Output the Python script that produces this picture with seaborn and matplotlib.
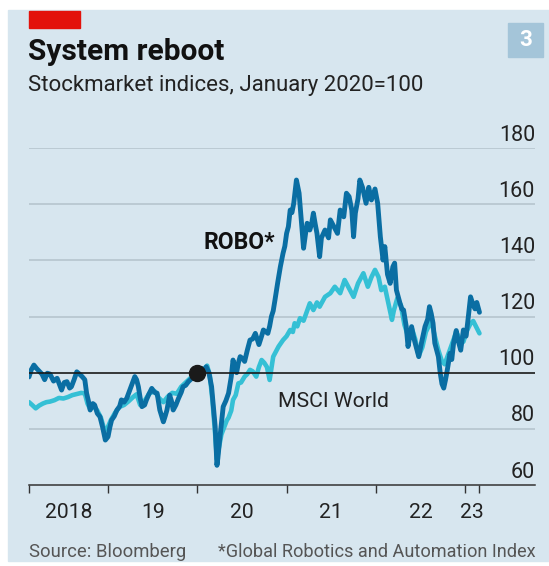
import numpy as np
import pandas as pd
import matplotlib
matplotlib.use("Agg")
import matplotlib.pyplot as plt
import matplotlib.transforms as mtransforms
from matplotlib.patches import Rectangle
import seaborn as sns

# decimal years and index values (January 2020 = 100)
robo_t = [2018.115, 2018.14, 2018.17, 2018.20, 2018.23, 2018.26, 2018.29, 2018.32, 2018.35, 2018.39,
          2018.43, 2018.46, 2018.48, 2018.51, 2018.54, 2018.57, 2018.59, 2018.62, 2018.65, 2018.68,
          2018.71, 2018.74, 2018.76, 2018.78, 2018.80, 2018.83, 2018.85, 2018.88, 2018.91, 2018.94,
          2018.97, 2019.00, 2019.02, 2019.04, 2019.07, 2019.10, 2019.13, 2019.15, 2019.18, 2019.21,
          2019.24, 2019.27, 2019.30, 2019.32, 2019.34, 2019.36, 2019.38, 2019.41, 2019.43, 2019.46,
          2019.49, 2019.52, 2019.55, 2019.58, 2019.62, 2019.64, 2019.66, 2019.69, 2019.71, 2019.73,
          2019.76, 2019.79, 2019.82, 2019.84, 2019.87, 2019.90, 2019.94, 2019.97, 2020.00, 2020.04,
          2020.08, 2020.10, 2020.13, 2020.16, 2020.18, 2020.20, 2020.22, 2020.23, 2020.25, 2020.27,
          2020.29, 2020.32, 2020.35, 2020.38, 2020.40, 2020.42, 2020.44, 2020.46, 2020.48, 2020.51,
          2020.53, 2020.56, 2020.59, 2020.62, 2020.65, 2020.67, 2020.69, 2020.72, 2020.74, 2020.77,
          2020.79, 2020.81, 2020.83, 2020.85, 2020.87, 2020.90, 2020.93, 2020.96, 2020.98, 2021.00,
          2021.02, 2021.04, 2021.06, 2021.08, 2021.11, 2021.14, 2021.17, 2021.19, 2021.21, 2021.23,
          2021.26, 2021.28, 2021.30, 2021.32, 2021.34, 2021.37, 2021.39, 2021.43, 2021.47, 2021.49,
          2021.53, 2021.57, 2021.60, 2021.64, 2021.67, 2021.70, 2021.73, 2021.75, 2021.77, 2021.80,
          2021.82, 2021.85, 2021.89, 2021.92, 2021.95, 2021.99, 2022.02, 2022.05, 2022.08, 2022.10,
          2022.13, 2022.16, 2022.19, 2022.21, 2022.23, 2022.27, 2022.29, 2022.31, 2022.34, 2022.36,
          2022.38, 2022.40, 2022.42, 2022.44, 2022.48, 2022.51, 2022.55, 2022.58, 2022.60, 2022.62,
          2022.64, 2022.66, 2022.70, 2022.72, 2022.74, 2022.76, 2022.78, 2022.80, 2022.83, 2022.85,
          2022.87, 2022.90, 2022.92, 2022.95, 2022.98, 2023.01, 2023.03, 2023.06, 2023.08, 2023.11,
          2023.13, 2023.16]
robo_v = [98.5, 101, 102.7, 101.5, 100.5, 99.5, 97.5, 99.8, 99.5, 97,
          98, 95.5, 93.8, 96.5, 96.8, 94.5, 95, 97.5, 100.3, 99.5,
          98.6, 97.5, 92.7, 90, 86.7, 89, 88.5, 85.5, 84.3, 80.5,
          76, 77.2, 80.5, 83.1, 84.5, 86.7, 88, 90.3, 89.5, 90.9,
          93.5, 96.2, 98.6, 97.5, 95, 91, 87.9, 88.5, 90.3, 92.5,
          94.4, 93, 92.7, 86.7, 82.5, 84.5, 86.7, 92, 90, 86.7,
          88.5, 90.9, 93, 95, 95.5, 96.8, 98, 99, 100, 101.5,
          101, 102.1, 100, 95, 88, 80.8, 67, 69.5, 76, 82,
          87.9, 90, 92.7, 98.5, 104.5, 102, 100, 103.5, 105.7, 105,
          104, 108, 111.6, 112, 114, 112, 110, 113, 115.2, 114.5,
          114, 116.5, 120, 122, 125.9, 132, 137.7, 142.5, 145, 149.6,
          152, 157.9, 157, 160.3, 168.6, 163.9, 152, 144.3, 149, 153.2,
          150.8, 153, 156.8, 153, 149.6, 141.3, 148, 150.8, 148, 154.4,
          152, 149.6, 157.9, 155.5, 163.9, 162.7, 157.9, 148.4, 156.8, 162,
          168.6, 166, 160.3, 166, 161.5, 165.4, 160.3, 148.4, 140.1, 144.9,
          135, 131.8, 137.7, 139, 129.4, 124.7, 122.7, 122.3, 116.4, 109.3,
          113, 116.4, 113, 110.5, 105.7, 110.5, 116.4, 119, 123.5, 121,
          117.6, 110.5, 105.7, 100, 96, 94.5, 97.5, 101, 106.9, 104.7,
          110.5, 115, 111.6, 108, 115.2, 113, 118.4, 127, 125, 122.7,
          125, 121.5]

msci_t = [2018.115, 2018.15, 2018.19, 2018.23, 2018.27, 2018.31, 2018.35, 2018.40, 2018.45, 2018.50,
          2018.55, 2018.60, 2018.65, 2018.70, 2018.74, 2018.77, 2018.80, 2018.84, 2018.88, 2018.92,
          2018.96, 2018.99, 2019.03, 2019.08, 2019.13, 2019.18, 2019.23, 2019.28, 2019.32, 2019.36,
          2019.40, 2019.46, 2019.52, 2019.57, 2019.62, 2019.67, 2019.72, 2019.77, 2019.82, 2019.87,
          2019.92, 2019.96, 2020.00, 2020.04, 2020.08, 2020.11, 2020.14, 2020.17, 2020.20, 2020.22,
          2020.24, 2020.27, 2020.30, 2020.33, 2020.35, 2020.38, 2020.40, 2020.43, 2020.46, 2020.49,
          2020.53, 2020.56, 2020.59, 2020.62, 2020.66, 2020.69, 2020.72, 2020.75, 2020.78, 2020.81,
          2020.85, 2020.88, 2020.91, 2020.96, 2021.00, 2021.04, 2021.07, 2021.09, 2021.12, 2021.15,
          2021.19, 2021.23, 2021.26, 2021.30, 2021.34, 2021.37, 2021.43, 2021.49, 2021.54, 2021.60,
          2021.65, 2021.71, 2021.75, 2021.80, 2021.86, 2021.91, 2021.95, 2021.99, 2022.03, 2022.06,
          2022.10, 2022.14, 2022.18, 2022.20, 2022.24, 2022.28, 2022.32, 2022.36, 2022.40, 2022.44,
          2022.48, 2022.52, 2022.56, 2022.62, 2022.66, 2022.70, 2022.74, 2022.77, 2022.81, 2022.85,
          2022.90, 2022.94, 2022.98, 2023.02, 2023.06, 2023.09, 2023.12, 2023.16]
msci_v = [89.5, 88.5, 87.3, 88.3, 89, 89.5, 89.7, 90.2, 91, 90.8,
          91.3, 92, 92.4, 92.8, 92.6, 89, 87, 88, 86.5, 84,
          79.5, 80, 83, 85.8, 87.8, 88.5, 89.8, 91.3, 92.3, 88.5,
          89.5, 92.5, 93.5, 91, 89.5, 91.5, 92.8, 92.5, 95, 96.5,
          98, 99.3, 100, 99.5, 101.5, 102.5, 99, 90, 78, 69,
          73, 78, 80.5, 83, 84, 86.5, 90.3, 92, 96.2, 96.5,
          98.6, 99.5, 101, 100.5, 98.6, 102, 104.5, 103.5, 102, 97.4,
          105.7, 107.5, 109.3, 111.6, 113, 115.2, 114.5, 117.6, 116.5, 119.4,
          118.5, 122, 124.7, 122.3, 125, 123.5, 127, 128.3, 130.6, 128.3,
          133, 129.4, 127, 131.8, 135.4, 130.6, 134, 136.6, 134, 129.4,
          130.6, 124.7, 118.8, 122, 126.5, 124, 117, 113, 116, 112,
          106, 109, 114.5, 118.5, 113, 108, 104, 103, 106.5, 110,
          114.5, 112, 111, 115, 117.5, 118.4, 116.5, 114]

year_ticks = [2018.115, 2019, 2020, 2021, 2022, 2023, 2023.16]
year_labels = ["2018", "19", "20", "21", "22", "23"]
y_ticks = [80, 100, 120, 140, 160, 180]

BG = "#d7e6ef"
ROBO_C = "#0a6ea3"
MSCI_C = "#35c0d5"
GRID_C = "#b3c2cb"
TXT = "#222222"

sns.set_theme(style="white")
plt.rcParams["font.family"] = ["Roboto", "DejaVu Sans"]

W, H = 549, 566
fig = plt.figure(figsize=(W / 100, H / 100), dpi=100, facecolor="white")

def fx(px):
    return px / W

def fy(py):
    return 1 - py / H

fig.patches.append(Rectangle((fx(8), fy(561)), fx(549) - fx(8), fy(10) - fy(561),
                             transform=fig.transFigure, color=BG, zorder=-5))
fig.patches.append(Rectangle((fx(28.7), fy(28)), fx(79.8) - fx(28.7), fy(10.5) - fy(28),
                             transform=fig.transFigure, color="#e3120b", zorder=1))
fig.patches.append(Rectangle((fx(508), fy(57)), fx(543) - fx(508), fy(23) - fy(57),
                             transform=fig.transFigure, color="#a4c5d9", zorder=1))
fig.text(fx(525.5), fy(40), "3", color="white", fontsize=16, fontweight="bold",
         ha="center", va="center")

fig.text(fx(28), fy(52), "System reboot", fontsize=21.5, fontweight="bold",
         color="#111111", ha="left", va="center")
fig.text(fx(28), fy(85), "Stockmarket indices, January 2020=100", fontsize=16,
         color=TXT, ha="left", va="center")

ax = fig.add_axes([fx(29), fy(485), fx(535) - fx(29), fy(148) - fy(485)])
ax.set_facecolor("none")

for v in y_ticks:
    if v == 100:
        continue
    ax.axhline(v, color=GRID_C, lw=1.1, zorder=1)

robo = pd.DataFrame({"t": robo_t, "v": robo_v})
msci = pd.DataFrame({"t": msci_t, "v": msci_v})
sns.lineplot(data=msci, x="t", y="v", ax=ax, color=MSCI_C, lw=3.3, zorder=3)
sns.lineplot(data=robo, x="t", y="v", ax=ax, color=ROBO_C, lw=3.5, zorder=4)
ax.axhline(100, color="#1a1a1a", lw=1.2, zorder=5)
ax.plot([2020.0], [100], "o", color="#1a1a1a", ms=11.5, zorder=6)

ax.set_xlim(2018.115, 2023.782)
ax.set_ylim(60, 180)
for s in ["top", "right", "left"]:
    ax.spines[s].set_visible(False)
ax.spines["bottom"].set_color("#333333")
ax.spines["bottom"].set_linewidth(1.1)
ax.set_xticks(year_ticks)
ax.set_xticklabels([])
ax.set_yticks([])
ax.tick_params(axis="x", direction="out", length=6, width=1.0, color="#333333", bottom=True)
ax.set_xlabel("")
ax.set_ylabel("")

# y labels sit above the gridlines, right-aligned
for v in y_ticks + [60]:
    ax.text(1.0, v + 4.6, str(v), transform=ax.get_yaxis_transform(),
            ha="right", va="center", fontsize=15.5, color=TXT)

# year labels centred between ticks
trans = mtransforms.blended_transform_factory(ax.transData, ax.transAxes)
for i, lab in enumerate(year_labels):
    mid = (year_ticks[i] + year_ticks[i + 1]) / 2
    ax.text(mid, -0.082, lab, transform=trans, ha="center", va="center",
            fontsize=15.2, color=TXT)

ax.text(2020.064, 146.5, "ROBO*", fontsize=16.5, fontweight="bold", color="#111111",
        ha="left", va="center")
ax.text(2020.905, 89.7, "MSCI World", fontsize=15.2, color=TXT, ha="left", va="center")

fig.text(fx(28.7), fy(552), "Source: Bloomberg", fontsize=13.3, color="#555555",
         ha="left", va="center")
fig.text(fx(535.5), fy(552), "*Global Robotics and Automation Index", fontsize=13.1,
         color="#555555", ha="right", va="center")

fig.savefig("out.png", dpi=100, facecolor="white")
